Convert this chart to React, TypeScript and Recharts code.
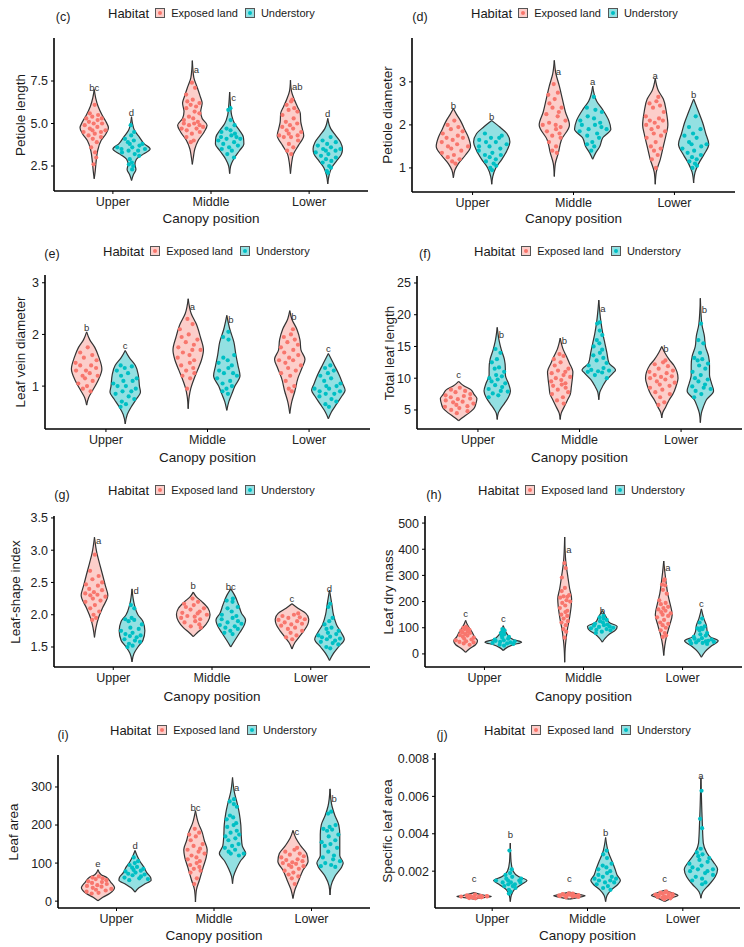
import React from "react";
import { ComposedChart, Area, Scatter, XAxis, YAxis } from "recharts";

const canopyPositions = ["Upper", "Middle", "Lower"];
const habitats = ["Exposed land", "Understory"];
const habitatColors = ["#F8766D", "#00BFC4"];
const habitatFills = ["#FCCECA", "#93E0E2"];

// violin outlines, [value, half width in category units], bottom to top
// order: Upper exposed, Upper understory, Middle exposed, Middle understory, Lower exposed, Lower understory
const petioleLengthShape = [
  [[1.75, 0], [2.2, 0.01], [2.8, 0.02], [3.4, 0.035], [4.0, 0.07], [4.4, 0.12], [4.75, 0.145], [5.1, 0.12], [5.5, 0.08], [6.0, 0.04], [6.5, 0.015], [7.0, 0]],
  [[1.65, 0], [2.0, 0.02], [2.3, 0.045], [2.6, 0.035], [2.9, 0.05], [3.2, 0.12], [3.5, 0.19], [3.8, 0.13], [4.2, 0.08], [4.6, 0.03], [5.0, 0.01], [5.4, 0]],
  [[2.6, 0], [3.0, 0.01], [3.5, 0.025], [4.0, 0.06], [4.5, 0.12], [4.9, 0.15], [5.3, 0.1], [5.7, 0.085], [6.2, 0.1], [6.6, 0.08], [7.2, 0.045], [7.7, 0.015], [8.7, 0]],
  [[2.05, 0], [2.5, 0.01], [2.9, 0.04], [3.4, 0.1], [3.8, 0.145], [4.2, 0.14], [4.6, 0.1], [5.0, 0.05], [5.5, 0.02], [6.0, 0.01], [6.85, 0]],
  [[2.05, 0], [2.6, 0.01], [3.2, 0.03], [3.7, 0.08], [4.3, 0.135], [4.7, 0.12], [5.1, 0.105], [5.6, 0.1], [6.0, 0.07], [6.4, 0.04], [6.9, 0.01], [7.55, 0]],
  [[1.45, 0], [2.0, 0.015], [2.4, 0.04], [2.8, 0.09], [3.2, 0.14], [3.5, 0.15], [3.9, 0.13], [4.3, 0.08], [4.7, 0.03], [5.3, 0]],
];
const petioleLengthDots = [
  [6.1, 5.6, 5.5, 5.4, 5.3, 5.3, 5.2, 5.1, 5.0, 5.0, 4.9, 4.8, 4.7, 4.6, 4.6, 4.5, 4.5, 4.4, 4.3, 4.2, 4.1, 3.9, 3.6, 3.3, 3.0, 2.6],
  [4.9, 4.5, 4.3, 4.1, 4.0, 3.9, 3.8, 3.8, 3.7, 3.6, 3.6, 3.5, 3.5, 3.4, 3.4, 3.3, 3.2, 3.1, 2.9, 2.7, 2.6, 2.5, 2.3],
  [7.4, 7.1, 6.7, 6.4, 6.3, 6.2, 6.1, 6.0, 5.9, 5.7, 5.6, 5.4, 5.3, 5.2, 5.1, 5.0, 5.0, 4.9, 4.9, 4.8, 4.7, 4.7, 4.6, 4.5, 4.4, 4.2, 4.0, 3.9],
  [5.9, 5.8, 5.2, 4.9, 4.7, 4.6, 4.5, 4.4, 4.3, 4.2, 4.2, 4.1, 4.1, 4.0, 3.9, 3.8, 3.7, 3.6, 3.5, 3.4, 3.2, 3.0],
  [6.4, 6.3, 6.1, 5.9, 5.8, 5.7, 5.5, 5.3, 5.1, 5.0, 4.9, 4.8, 4.7, 4.6, 4.5, 4.4, 4.3, 4.3, 4.2, 4.2, 4.0, 3.8, 3.6, 3.4, 3.2],
  [4.2, 4.0, 3.9, 3.8, 3.7, 3.6, 3.5, 3.5, 3.4, 3.4, 3.3, 3.2, 3.1, 3.0, 2.9, 2.8, 2.7, 2.5, 2.4, 2.2, 2.1],
];
const petioleLengthLetters = ["bc", "d", "a", "c", "ab", "d"];
const petioleLengthLetterY = [7.12, 5.65, 8.2, 6.55, 7.2, 5.6];
const petioleLengthTicks = [2.5, 5, 7.5];

const petioleDiameterShape = [
  [[0.77, 0], [0.95, 0.015], [1.1, 0.05], [1.3, 0.12], [1.5, 0.17], [1.7, 0.15], [1.9, 0.11], [2.1, 0.07], [2.25, 0.03], [2.38, 0]],
  [[0.62, 0], [0.8, 0.01], [1.0, 0.04], [1.2, 0.1], [1.4, 0.15], [1.6, 0.18], [1.8, 0.15], [1.95, 0.08], [2.1, 0]],
  [[0.8, 0], [1.1, 0.01], [1.35, 0.04], [1.65, 0.07], [2.0, 0.15], [2.3, 0.11], [2.6, 0.08], [2.9, 0.05], [3.2, 0.015], [3.5, 0]],
  [[1.2, 0], [1.35, 0.03], [1.5, 0.07], [1.7, 0.1], [1.9, 0.18], [2.1, 0.16], [2.35, 0.1], [2.55, 0.04], [2.9, 0]],
  [[0.62, 0], [0.9, 0.01], [1.2, 0.05], [1.5, 0.08], [1.8, 0.11], [2.0, 0.125], [2.3, 0.11], [2.6, 0.08], [2.8, 0.03], [3.08, 0]],
  [[0.65, 0], [0.9, 0.015], [1.1, 0.05], [1.3, 0.1], [1.55, 0.15], [1.8, 0.12], [2.05, 0.09], [2.3, 0.05], [2.6, 0]],
];
const petioleDiameterDots = [
  [2.1, 2.0, 1.95, 1.9, 1.85, 1.8, 1.75, 1.7, 1.7, 1.65, 1.6, 1.55, 1.5, 1.5, 1.45, 1.4, 1.35, 1.3, 1.25, 1.2, 1.15, 1.1],
  [1.8, 1.75, 1.7, 1.65, 1.6, 1.6, 1.55, 1.5, 1.45, 1.4, 1.35, 1.3, 1.3, 1.25, 1.2, 1.15, 1.1, 1.05, 1.0, 0.95, 1.5, 1.7],
  [2.95, 2.75, 2.7, 2.6, 2.5, 2.4, 2.4, 2.3, 2.25, 2.2, 2.1, 2.05, 2.0, 2.0, 1.95, 1.9, 1.85, 1.8, 1.75, 1.7, 1.6, 1.5, 1.4, 1.35],
  [2.65, 2.4, 2.35, 2.3, 2.2, 2.15, 2.1, 2.05, 2.0, 2.0, 1.95, 1.9, 1.9, 1.85, 1.8, 1.75, 1.7, 1.6, 1.55, 1.5, 1.4],
  [2.65, 2.55, 2.5, 2.45, 2.4, 2.3, 2.2, 2.15, 2.1, 2.1, 2.05, 2.0, 1.95, 1.9, 1.85, 1.8, 1.75, 1.7, 1.6, 1.5, 1.45, 1.4, 1.3, 1.2, 1.0],
  [2.2, 1.95, 1.9, 1.8, 1.75, 1.7, 1.6, 1.55, 1.55, 1.5, 1.45, 1.4, 1.35, 1.3, 1.25, 1.2, 1.15, 1.1, 1.05, 1.0],
];
const petioleDiameterLetters = ["b", "b", "a", "a", "a", "b"];
const petioleDiameterLetterY = [2.44, 2.2, 3.25, 3.0, 3.15, 2.7];
const petioleDiameterTicks = [1, 2, 3];

const veinDiameterShape = [
  [[0.63, 0], [0.78, 0.02], [0.92, 0.06], [1.1, 0.11], [1.33, 0.15], [1.56, 0.12], [1.75, 0.08], [1.9, 0.03], [2.05, 0]],
  [[0.27, 0], [0.45, 0.02], [0.6, 0.06], [0.75, 0.11], [0.88, 0.15], [1.0, 0.14], [1.2, 0.13], [1.4, 0.1], [1.55, 0.04], [1.69, 0]],
  [[0.56, 0], [0.8, 0.01], [0.95, 0.025], [1.1, 0.05], [1.3, 0.09], [1.5, 0.13], [1.7, 0.15], [1.95, 0.12], [2.2, 0.08], [2.4, 0.03], [2.69, 0]],
  [[0.53, 0], [0.7, 0.02], [0.85, 0.05], [1.0, 0.08], [1.2, 0.13], [1.4, 0.11], [1.6, 0.09], [1.85, 0.07], [2.1, 0.03], [2.37, 0]],
  [[0.47, 0], [0.7, 0.02], [0.9, 0.05], [1.15, 0.08], [1.35, 0.12], [1.52, 0.15], [1.7, 0.11], [1.9, 0.1], [2.1, 0.07], [2.3, 0.02], [2.46, 0]],
  [[0.37, 0], [0.5, 0.03], [0.65, 0.08], [0.8, 0.13], [0.92, 0.165], [1.05, 0.14], [1.2, 0.11], [1.4, 0.06], [1.63, 0]],
];
const veinDiameterDots = [
  [1.75, 1.65, 1.6, 1.55, 1.5, 1.45, 1.4, 1.4, 1.35, 1.3, 1.3, 1.25, 1.2, 1.2, 1.15, 1.1, 1.05, 1.0, 0.95, 0.9],
  [1.4, 1.38, 1.35, 1.3, 1.25, 1.2, 1.15, 1.1, 1.1, 1.05, 1.0, 1.0, 0.95, 0.9, 0.9, 0.85, 0.8, 0.75, 0.7, 0.65, 0.6],
  [2.3, 2.2, 2.1, 2.0, 1.95, 1.9, 1.85, 1.8, 1.75, 1.7, 1.7, 1.65, 1.6, 1.55, 1.5, 1.45, 1.4, 1.35, 1.3, 1.25, 1.2, 1.15, 0.95],
  [2.05, 1.95, 1.9, 1.6, 1.55, 1.5, 1.45, 1.4, 1.35, 1.3, 1.25, 1.25, 1.2, 1.15, 1.1, 1.05, 1.0, 0.95, 0.9, 0.85],
  [2.1, 2.0, 1.95, 1.9, 1.85, 1.8, 1.75, 1.7, 1.65, 1.6, 1.55, 1.5, 1.5, 1.45, 1.4, 1.35, 1.3, 1.25, 1.2, 1.1, 1.0, 0.95, 0.9],
  [1.4, 1.35, 1.3, 1.25, 1.2, 1.15, 1.1, 1.05, 1.0, 1.0, 0.95, 0.95, 0.9, 0.9, 0.85, 0.85, 0.8, 0.75, 0.7, 0.65, 0.6],
];
const veinDiameterLetters = ["b", "c", "a", "b", "b", "c"];
const veinDiameterLetterY = [2.14, 1.79, 2.55, 2.29, 2.35, 1.72];
const veinDiameterTicks = [1, 2, 3];

const leafLengthShape = [
  [[3.3, 0], [3.8, 0.04], [4.5, 0.1], [5.2, 0.15], [6.0, 0.17], [6.8, 0.18], [7.5, 0.15], [8.2, 0.12], [8.8, 0.05], [9.5, 0]],
  [[3.5, 0], [4.5, 0.01], [5.1, 0.03], [6.0, 0.07], [7.0, 0.11], [8.0, 0.13], [9.2, 0.11], [10.5, 0.08], [11.5, 0.08], [13.0, 0.07], [14.5, 0.04], [15.8, 0.02], [18.0, 0]],
  [[3.5, 0], [4.5, 0.01], [5.5, 0.04], [6.5, 0.07], [7.5, 0.1], [8.7, 0.11], [10.0, 0.12], [11.0, 0.125], [12.4, 0.09], [13.5, 0.06], [14.5, 0.03], [16.3, 0]],
  [[6.6, 0], [7.8, 0.01], [8.8, 0.04], [9.8, 0.08], [10.8, 0.14], [11.3, 0.165], [12.4, 0.1], [14.0, 0.08], [15.5, 0.06], [17.0, 0.04], [19.0, 0.02], [22.3, 0]],
  [[3.75, 0], [4.6, 0.01], [5.5, 0.04], [6.5, 0.07], [7.5, 0.11], [8.7, 0.14], [10.0, 0.16], [11.0, 0.15], [12.0, 0.12], [13.0, 0.07], [14.0, 0.03], [15.0, 0]],
  [[3.0, 0], [4.5, 0.01], [5.5, 0.03], [6.6, 0.06], [8.0, 0.13], [9.2, 0.11], [10.5, 0.09], [12.0, 0.09], [13.5, 0.08], [15.0, 0.05], [16.6, 0.04], [18.5, 0.015], [22.6, 0]],
];
const leafLengthDots = [
  [8.5, 8.2, 8.0, 7.8, 7.5, 7.3, 7.2, 7.0, 6.8, 6.7, 6.5, 6.3, 6.2, 6.0, 5.8, 5.6, 5.5, 5.3, 5.0, 4.8, 4.5],
  [14.6, 14.0, 13.0, 12.5, 11.7, 11.5, 11.0, 10.5, 10.3, 10.0, 9.8, 9.5, 9.2, 8.9, 8.6, 8.3, 8.0, 7.9, 7.6, 7.3, 7.0],
  [13.8, 13.5, 13.0, 12.5, 12.0, 11.5, 11.2, 11.0, 10.8, 10.5, 10.2, 10.0, 9.7, 9.5, 9.2, 9.0, 8.8, 8.5, 8.2, 7.8, 7.5, 7.0, 6.5, 6.0],
  [18.8, 18.6, 17.5, 16.8, 16.0, 15.5, 15.0, 14.5, 14.0, 13.6, 13.2, 12.8, 12.4, 12.0, 11.6, 11.3, 11.2, 11.1, 11.0, 10.9, 10.5, 10.0],
  [12.8, 12.5, 12.2, 11.9, 11.5, 11.2, 11.0, 10.8, 10.5, 10.3, 10.2, 10.0, 9.8, 9.5, 9.3, 9.0, 8.8, 8.5, 8.2, 7.8, 7.5, 7.0, 6.2, 5.8],
  [18.6, 16.0, 15.5, 14.0, 13.2, 13.0, 12.8, 12.3, 12.0, 11.5, 11.0, 10.5, 10.0, 9.8, 9.5, 9.0, 8.7, 8.5, 8.3, 8.0, 7.5, 7.0],
];
const leafLengthLetters = ["c", "b", "b", "a", "b", "b"];
const leafLengthLetterY = [10.55, 16.83, 15.94, 21.0, 14.74, 20.86];
const leafLengthTicks = [5, 10, 15, 20, 25];

const shapeIndexShape = [
  [[1.65, 0], [1.8, 0.015], [1.95, 0.04], [2.1, 0.08], [2.3, 0.135], [2.45, 0.11], [2.6, 0.085], [2.8, 0.05], [2.95, 0.025], [3.2, 0]],
  [[1.27, 0], [1.4, 0.02], [1.5, 0.06], [1.6, 0.11], [1.75, 0.13], [1.9, 0.11], [2.0, 0.06], [2.15, 0.025], [2.4, 0]],
  [[1.66, 0], [1.72, 0.04], [1.8, 0.1], [1.9, 0.15], [2.0, 0.17], [2.1, 0.15], [2.2, 0.09], [2.28, 0.03], [2.35, 0]],
  [[1.5, 0], [1.6, 0.04], [1.72, 0.09], [1.85, 0.14], [1.92, 0.15], [2.02, 0.11], [2.15, 0.08], [2.3, 0.04], [2.4, 0]],
  [[1.47, 0], [1.57, 0.03], [1.65, 0.07], [1.75, 0.12], [1.85, 0.16], [1.93, 0.17], [2.02, 0.14], [2.1, 0.06], [2.17, 0]],
  [[1.29, 0], [1.4, 0.04], [1.5, 0.09], [1.62, 0.15], [1.72, 0.12], [1.85, 0.07], [2.0, 0.04], [2.15, 0.025], [2.38, 0]],
];
const shapeIndexDots = [
  [2.93, 2.68, 2.6, 2.55, 2.5, 2.47, 2.45, 2.4, 2.38, 2.35, 2.33, 2.31, 2.3, 2.28, 2.25, 2.22, 2.2, 2.15, 2.1, 2.05, 2.0, 1.95, 1.92],
  [2.15, 2.1, 1.95, 1.93, 1.92, 1.9, 1.85, 1.8, 1.78, 1.75, 1.72, 1.7, 1.68, 1.67, 1.65, 1.62, 1.6, 1.58, 1.55, 1.52, 1.5],
  [2.25, 2.2, 2.17, 2.15, 2.12, 2.1, 2.08, 2.05, 2.03, 2.02, 2.0, 1.98, 1.97, 1.95, 1.93, 1.9, 1.88, 1.85, 1.82, 1.8],
  [2.25, 2.22, 2.2, 2.12, 2.1, 2.05, 2.0, 1.98, 1.95, 1.93, 1.9, 1.88, 1.86, 1.84, 1.82, 1.8, 1.78, 1.75, 1.72, 1.7],
  [2.02, 2.0, 1.98, 1.96, 1.95, 1.93, 1.92, 1.9, 1.88, 1.86, 1.85, 1.83, 1.8, 1.78, 1.75, 1.72, 1.68, 1.65, 1.62],
  [2.17, 2.12, 1.95, 1.9, 1.85, 1.8, 1.78, 1.75, 1.72, 1.7, 1.68, 1.66, 1.65, 1.63, 1.62, 1.6, 1.58, 1.56, 1.54, 1.5, 1.48],
];
const shapeIndexLetters = ["a", "d", "b", "bc", "c", "d"];
const shapeIndexLetterY = [3.15, 2.37, 2.45, 2.44, 2.25, 2.4];
const shapeIndexTicks = [1.5, 2, 2.5, 3, 3.5];

const dryMassShape = [
  [[6, 0], [20, 0.04], [35, 0.1], [50, 0.12], [65, 0.09], [80, 0.07], [95, 0.045], [110, 0.02], [128, 0]],
  [[13, 0], [25, 0.04], [35, 0.1], [45, 0.185], [55, 0.1], [70, 0.05], [85, 0.025], [108, 0]],
  [[-32, 0], [20, 0.005], [60, 0.015], [100, 0.03], [140, 0.05], [180, 0.065], [210, 0.07], [250, 0.05], [300, 0.03], [350, 0.012], [447, 0]],
  [[45, 0], [60, 0.03], [75, 0.07], [90, 0.13], [105, 0.15], [120, 0.07], [140, 0.04], [166, 0]],
  [[-6, 0], [30, 0.01], [70, 0.03], [110, 0.06], [150, 0.085], [190, 0.065], [230, 0.04], [270, 0.025], [310, 0.012], [355, 0]],
  [[-13, 0], [10, 0.04], [30, 0.1], [50, 0.17], [65, 0.09], [85, 0.06], [110, 0.05], [135, 0.025], [172, 0]],
];
const dryMassDots = [
  [103, 100, 98, 95, 92, 88, 85, 82, 80, 76, 72, 70, 66, 62, 58, 55, 52, 48, 46, 44, 40, 35],
  [95, 90, 85, 80, 75, 70, 65, 62, 58, 55, 52, 50, 48, 46, 44, 42, 40, 38, 35, 32],
  [347, 328, 292, 252, 240, 225, 220, 218, 215, 205, 200, 195, 185, 175, 165, 160, 150, 145, 135, 125, 120, 110, 95, 85, 62],
  [145, 140, 135, 130, 125, 120, 115, 112, 110, 108, 105, 103, 100, 98, 95, 92, 90, 85, 80],
  [285, 280, 265, 262, 245, 230, 205, 195, 190, 180, 175, 170, 165, 160, 155, 150, 145, 140, 130, 120, 115, 110, 100, 90, 80, 70, 65],
  [135, 120, 105, 100, 98, 95, 90, 80, 75, 70, 65, 60, 58, 55, 52, 50, 50, 48, 46, 44, 42, 40, 38],
];
const dryMassLetters = ["c", "c", "a", "b", "a", "c"];
const dryMassLetterY = [153, 134, 398, 166, 330, 194];
const dryMassTicks = [0, 100, 200, 300, 400, 500];

const leafAreaShape = [
  [[1, 0], [10, 0.05], [20, 0.12], [35, 0.17], [50, 0.13], [62, 0.09], [70, 0.03], [83, 0]],
  [[24, 0], [35, 0.04], [45, 0.1], [55, 0.165], [62, 0.16], [75, 0.12], [90, 0.09], [105, 0.05], [120, 0.02], [133, 0]],
  [[-2, 0], [30, 0.01], [55, 0.04], [90, 0.08], [115, 0.11], [135, 0.12], [160, 0.09], [180, 0.07], [205, 0.03], [238, 0]],
  [[46, 0], [65, 0.01], [85, 0.04], [105, 0.08], [125, 0.135], [145, 0.1], [170, 0.09], [200, 0.085], [230, 0.07], [260, 0.045], [285, 0.02], [325, 0]],
  [[7, 0], [30, 0.02], [55, 0.06], [80, 0.1], [105, 0.155], [125, 0.14], [145, 0.08], [165, 0.03], [186, 0]],
  [[16, 0], [40, 0.01], [65, 0.05], [90, 0.12], [100, 0.135], [120, 0.1], [145, 0.1], [175, 0.1], [200, 0.09], [225, 0.05], [250, 0.02], [295, 0]],
];
const leafAreaDots = [
  [65, 62, 60, 58, 55, 52, 50, 48, 45, 42, 40, 38, 35, 32, 30, 28, 25, 22, 20],
  [115, 105, 100, 95, 90, 88, 85, 82, 80, 78, 75, 72, 70, 68, 65, 62, 60, 58, 55],
  [190, 180, 175, 170, 160, 150, 145, 138, 135, 130, 125, 120, 115, 110, 105, 100, 95, 90, 85, 80, 75, 60, 45],
  [268, 262, 255, 248, 225, 220, 215, 205, 200, 195, 185, 180, 175, 170, 165, 160, 150, 145, 140, 135, 130, 125, 125, 120],
  [140, 135, 130, 125, 122, 118, 115, 110, 108, 105, 102, 100, 98, 95, 92, 90, 85, 80, 75, 70, 65, 60, 45],
  [235, 230, 200, 195, 190, 188, 185, 175, 170, 160, 155, 150, 145, 140, 130, 120, 115, 110, 105, 100, 95, 92, 90],
];
const leafAreaLetters = ["e", "d", "bc", "a", "c", "b"];
const leafAreaLetterY = [100, 145, 245, 299, 184, 271];
const leafAreaTicks = [0, 100, 200, 300];

const slaShape = [
  [[0.0005, 0], [0.0006, 0.12], [0.00065, 0.18], [0.0007, 0.12], [0.00085, 0]],
  [[0.00037, 0], [0.0007, 0.01], [0.001, 0.04], [0.0013, 0.12], [0.0015, 0.175], [0.0017, 0.09], [0.002, 0.03], [0.0025, 0.008], [0.0035, 0]],
  [[0.0005, 0], [0.0006, 0.1], [0.00068, 0.165], [0.00076, 0.1], [0.00088, 0]],
  [[0.00037, 0], [0.0007, 0.015], [0.001, 0.06], [0.0013, 0.13], [0.0015, 0.155], [0.0018, 0.12], [0.0021, 0.1], [0.0025, 0.07], [0.003, 0.03], [0.0038, 0]],
  [[0.00038, 0], [0.0006, 0.09], [0.0007, 0.14], [0.0008, 0.1], [0.00098, 0]],
  [[0.00055, 0], [0.0009, 0.02], [0.0013, 0.09], [0.0017, 0.15], [0.0021, 0.175], [0.0025, 0.13], [0.003, 0.06], [0.0035, 0.025], [0.0045, 0.015], [0.0055, 0.008], [0.007, 0]],
];
const slaDots = [
  [0.00075, 0.0007, 0.00068, 0.00066, 0.00065, 0.00064, 0.00063, 0.00062, 0.0006, 0.00058, 0.00056, 0.00055, 0.00065, 0.00067, 0.00061, 0.00063],
  [0.0031, 0.0021, 0.0019, 0.0018, 0.0017, 0.0016, 0.0016, 0.0015, 0.0015, 0.0015, 0.0014, 0.0014, 0.0014, 0.0013, 0.0013, 0.0012, 0.0012, 0.0011, 0.001, 0.0009, 0.0008],
  [0.00082, 0.0008, 0.00078, 0.00076, 0.00074, 0.00072, 0.0007, 0.00068, 0.00066, 0.00064, 0.00062, 0.0006, 0.00075, 0.00071],
  [0.0031, 0.0029, 0.0027, 0.0024, 0.0023, 0.0022, 0.0021, 0.002, 0.0019, 0.0018, 0.0017, 0.0017, 0.0016, 0.0016, 0.0015, 0.0015, 0.0014, 0.0014, 0.0013, 0.0012, 0.0011, 0.001],
  [0.00092, 0.00088, 0.00085, 0.00082, 0.0008, 0.00078, 0.00075, 0.00072, 0.0007, 0.00068, 0.00065, 0.00062, 0.0006, 0.00058, 0.00055, 0.0005],
  [0.0063, 0.0048, 0.0043, 0.0032, 0.003, 0.0029, 0.0028, 0.0027, 0.0026, 0.0025, 0.0024, 0.0023, 0.0022, 0.0021, 0.0021, 0.002, 0.002, 0.0019, 0.0018, 0.0017, 0.0016, 0.0015, 0.0014, 0.0013],
];
const slaLetters = ["c", "b", "c", "b", "c", "a"];
const slaLetterY = [0.00161, 0.00395, 0.00161, 0.00409, 0.00161, 0.0071];
const slaTicks = [0.002, 0.004, 0.006, 0.008];

const DODGE = 0.19;
const JITTER = [0.15, -0.7, 0.55, -0.25, 0.85, -0.9, 0.35, -0.5, 0.7, -0.05, -0.8, 0.25, -0.35, 0.95, -0.15, 0.6, -0.95, 0.05, -0.6, 0.8, -0.2, 0.45, -0.75, 0.3, 0.9, -0.4, 0.1, -0.85, 0.5];
const FONT = '"Liberation Sans", Arial, Helvetica, sans-serif';
const W = 372;
const H = 237;

const fixed1 = (v: number) => v.toFixed(1);
const plain = (v: number) => String(v);
const fixed3 = (v: number) => v.toFixed(3);

const panels = [
  { tag: "c", x: 0, y: 0, plot: [54, 38, 368, 191], domain: [1.03, 10.03], ticks: petioleLengthTicks, fmt: fixed1, title: "Petiole length", titleX: 20, xTitleY: 218, tagX: 63, tagY: 17, legX: 108, legY: 13, shape: petioleLengthShape, dots: petioleLengthDots, letters: petioleLengthLetters, letterY: petioleLengthLetterY },
  { tag: "d", x: 372, y: 0, plot: [40, 38, 363, 192], domain: [0.44, 4.02], ticks: petioleDiameterTicks, fmt: plain, title: "Petiole diameter", titleX: 15, xTitleY: 218, tagX: 48, tagY: 17, legX: 99, legY: 13, shape: petioleDiameterShape, dots: petioleDiameterDots, letters: petioleDiameterLetters, letterY: petioleDiameterLetterY },
  { tag: "e", x: 0, y: 237, plot: [45, 38, 370, 192], domain: [0.17, 3.15], ticks: veinDiameterTicks, fmt: plain, title: "Leaf vein diameter", titleX: 20, xTitleY: 220, tagX: 52, tagY: 17, legX: 103, legY: 14, shape: veinDiameterShape, dots: veinDiameterDots, letters: veinDiameterLetters, letterY: veinDiameterLetterY },
  { tag: "f", x: 372, y: 237, plot: [45, 39, 370, 192], domain: [2.0, 26.1], ticks: leafLengthTicks, fmt: plain, title: "Total leaf length", titleX: 17, xTitleY: 220, tagX: 53, tagY: 17, legX: 102, legY: 14, shape: leafLengthShape, dots: leafLengthDots, letters: leafLengthLetters, letterY: leafLengthLetterY },
  { tag: "g", x: 0, y: 474, plot: [54, 42, 370, 193], domain: [1.19, 3.53], ticks: shapeIndexTicks, fmt: fixed1, title: "Leaf-shape index", titleX: 15, xTitleY: 222, tagX: 62, tagY: 21, legX: 108, legY: 16, shape: shapeIndexShape, dots: shapeIndexDots, letters: shapeIndexLetters, letterY: shapeIndexLetterY },
  { tag: "h", x: 372, y: 474, plot: [53, 42, 370, 193], domain: [-50, 527], ticks: dryMassTicks, fmt: plain, title: "Leaf dry mass", titleX: 16, xTitleY: 222, tagX: 62, tagY: 21, legX: 106, legY: 16, shape: dryMassShape, dots: dryMassDots, letters: dryMassLetters, letterY: dryMassLetterY },
  { tag: "i", x: 0, y: 710, plot: [58, 45, 370, 198], domain: [-18, 384], ticks: leafAreaTicks, fmt: plain, title: "Leaf area", titleX: 13, xTitleY: 225, tagX: 63, tagY: 25, legX: 110, legY: 20, shape: leafAreaShape, dots: leafAreaDots, letters: leafAreaLetters, letterY: leafAreaLetterY },
  { tag: "j", x: 372, y: 710, plot: [63, 43, 368, 198], domain: [0.00003, 0.00832], ticks: slaTicks, fmt: fixed3, title: "Specific leaf area", titleX: 15, xTitleY: 225, tagX: 70, tagY: 25, legX: 112, legY: 20, shape: slaShape, dots: slaDots, letters: slaLetters, letterY: slaLetterY },
];

const centerOf = (i: number) => Math.floor(i / 2) + 1 + (i % 2 === 0 ? -DODGE : DODGE);

function halfWidthAt(profile: number[][], y: number) {
  if (y <= profile[0][0] || y >= profile[profile.length - 1][0]) return 0;
  for (let k = 1; k < profile.length; k++) {
    const [y0, w0] = profile[k - 1];
    const [y1, w1] = profile[k];
    if (y <= y1) return w0 + ((w1 - w0) * (y - y0)) / (y1 - y0);
  }
  return 0;
}

function LegendKey({ idx }: { idx: number }) {
  return (
    <span style={{ width: 10, height: 10, boxSizing: "border-box", border: "1px solid #555", background: habitatFills[idx], display: "inline-flex", alignItems: "center", justifyContent: "center" }}>
      <span style={{ width: 4, height: 4, borderRadius: "50%", background: habitatColors[idx] }} />
    </span>
  );
}

function ViolinPanel({ p }: { p: any }) {
  const [left, top, right, bottom] = p.plot;
  const violins = p.shape.map((prof: number[][], i: number) => {
    const cx = centerOf(i);
    return prof.slice().reverse().map(([y, w]) => ({ y, r: [cx - w, cx + w] }));
  });
  const dots: { x: number; y: number }[][] = [[], []];
  p.dots.forEach((ys: number[], i: number) => {
    const cx = centerOf(i);
    ys.forEach((y, j) => {
      const hw = Math.max(halfWidthAt(p.shape[i], y), 0.02);
      dots[i % 2].push({ x: cx + JITTER[(j + i * 7) % JITTER.length] * hw * 0.9, y });
    });
  });
  const letters = p.letters.map((t: string, i: number) => {
    const prof = p.shape[i];
    return { x: centerOf(i), y: p.letterY[i], t, side: p.letterY[i] < prof[prof.length - 1][0] };
  });
  const axisStyle = { stroke: "#000", strokeWidth: 1.6 };
  const tickStyle = { fill: "#222", fontSize: 12.5, fontFamily: FONT };

  return (
    <div style={{ position: "absolute", left: p.x, top: p.y, width: W, height: H, fontFamily: FONT, color: "#1a1a1a" }}>
      <ComposedChart layout="vertical" width={W} height={H} margin={{ top, right: W - right, bottom: 0, left: 0 }}>
        <XAxis
          type="number"
          dataKey="x"
          domain={[0.4, 3.6]}
          ticks={[1, 2, 3]}
          allowDataOverflow
          tickFormatter={(v: number) => canopyPositions[Math.round(v) - 1]}
          height={H - bottom}
          axisLine={axisStyle}
          tickLine={{ stroke: "#000" }}
          tickSize={3}
          tickMargin={3}
          tick={tickStyle}
        />
        <YAxis
          type="number"
          dataKey="y"
          reversed
          domain={p.domain}
          ticks={p.ticks}
          allowDataOverflow
          tickFormatter={p.fmt}
          width={left}
          axisLine={axisStyle}
          tickLine={{ stroke: "#000" }}
          tickSize={3}
          tickMargin={3}
          tick={tickStyle}
        />
        {violins.map((d: any[], i: number) => (
          <Area
            key={"v" + i}
            data={d}
            dataKey="r"
            type="monotone"
            fill={habitatFills[i % 2]}
            fillOpacity={1}
            stroke="#333"
            strokeWidth={1.2}
            dot={false}
            activeDot={false}
            isAnimationActive={false}
          />
        ))}
        {dots.map((d, g) => (
          <Scatter
            key={"d" + g}
            name={habitats[g]}
            data={d}
            isAnimationActive={false}
            shape={(s: any) => <circle cx={s.cx} cy={s.cy} r={2.1} fill={habitatColors[g]} />}
          />
        ))}
        <Scatter
          data={letters}
          isAnimationActive={false}
          shape={(s: any) => (
            <text
              x={s.payload.side ? s.cx + 1.5 : s.cx}
              y={s.cy + 3.5}
              textAnchor={s.payload.side ? "start" : "middle"}
              fontSize={9.5}
              fontFamily={FONT}
              fill="#333"
            >
              {s.payload.t}
            </text>
          )}
        />
      </ComposedChart>
      <div style={{ position: "absolute", left: p.tagX, top: p.tagY, transform: "translate(-50%, -50%)", fontSize: 12.5, whiteSpace: "nowrap" }}>
        ({p.tag})
      </div>
      <div style={{ position: "absolute", left: p.legX, top: p.legY - 8, height: 16, display: "flex", alignItems: "center", whiteSpace: "nowrap" }}>
        <span style={{ fontSize: 13, marginRight: 6 }}>Habitat</span>
        <LegendKey idx={0} />
        <span style={{ fontSize: 11, marginLeft: 6, marginRight: 7 }}>{habitats[0]}</span>
        <LegendKey idx={1} />
        <span style={{ fontSize: 11, marginLeft: 6 }}>{habitats[1]}</span>
      </div>
      <div style={{ position: "absolute", left: p.titleX, top: (top + bottom) / 2, transform: "translate(-50%, -50%) rotate(-90deg)", fontSize: 13.5, whiteSpace: "nowrap" }}>
        {p.title}
      </div>
      <div style={{ position: "absolute", left: (left + right) / 2, top: p.xTitleY, transform: "translate(-50%, -50%)", fontSize: 13.5, whiteSpace: "nowrap" }}>
        Canopy position
      </div>
    </div>
  );
}

export default function App() {
  return (
    <div style={{ position: "absolute", left: 0, top: 0, width: 744, height: 947, background: "#fff" }}>
      {panels.map((p) => (
        <ViolinPanel key={p.tag} p={p} />
      ))}
    </div>
  );
}
